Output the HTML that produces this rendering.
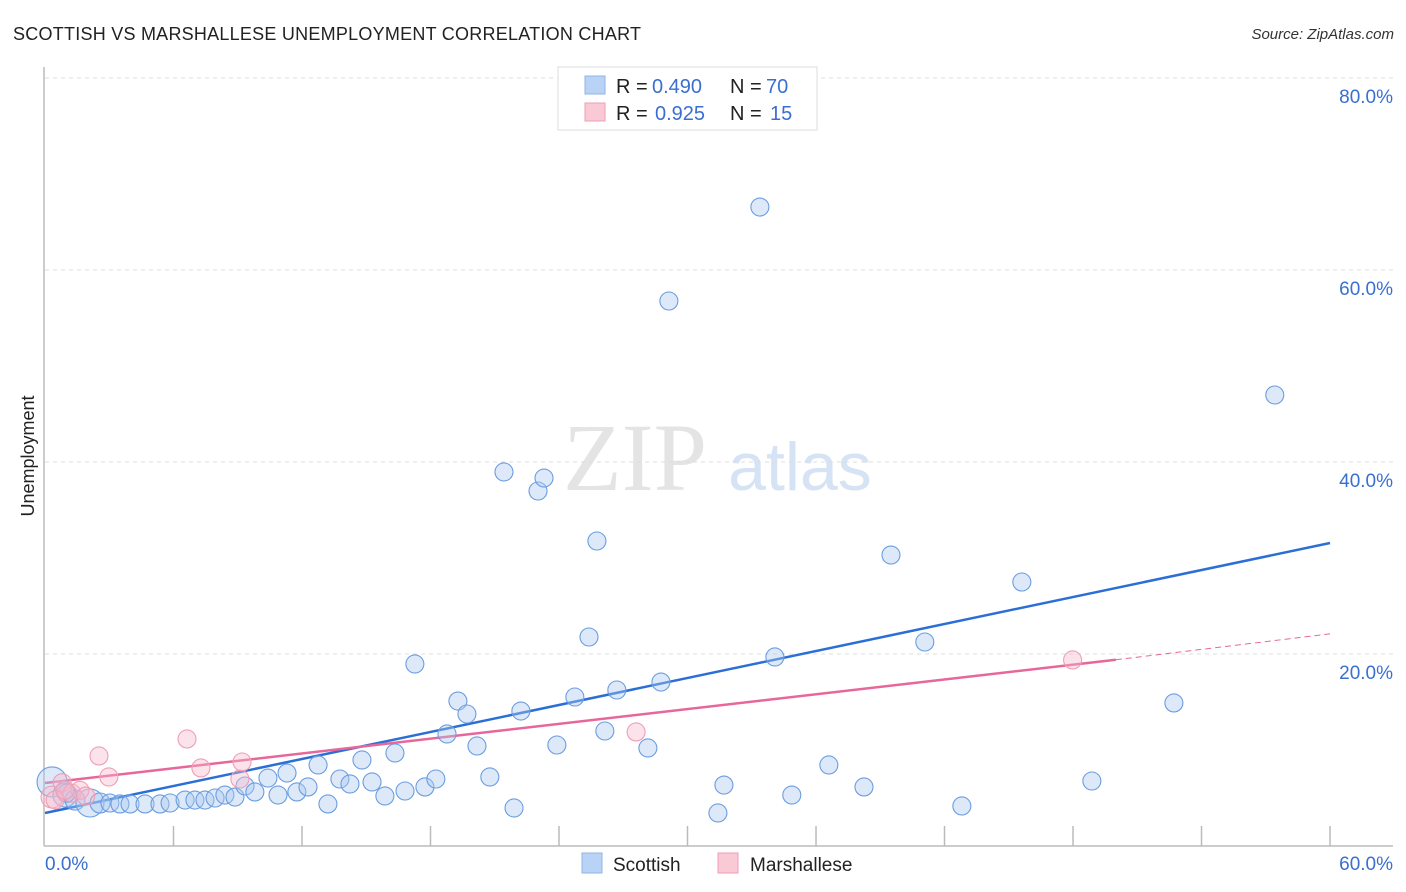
<!DOCTYPE html>
<html><head><meta charset="utf-8">
<style>
body{margin:0;background:#fff;font-family:"Liberation Sans",sans-serif;}
svg{display:block}
</style></head>
<body>
<svg id="chart" width="1406" height="892">
<text x="13" y="40" font-size="18" fill="#222" textLength="628">SCOTTISH VS MARSHALLESE UNEMPLOYMENT CORRELATION CHART</text>
<text x="1394" y="39" font-size="15" fill="#333" font-style="italic" text-anchor="end">Source: ZipAtlas.com</text>
<text x="34" y="456" font-size="18" fill="#222" text-anchor="middle" transform="rotate(-90 34 456)">Unemployment</text>
<g>
<text x="635" y="490" font-size="96" fill="#e4e4e4" font-family="Liberation Serif,serif" text-anchor="middle">ZIP</text>
<text x="800" y="490" font-size="68" fill="#d5e3f5" text-anchor="middle">atlas</text>
</g>
<g id="grid"></g>
<g id="axes"></g>
<g id="lines"></g>
<g id="pts"></g>
<g>
<rect x="558" y="67" width="259" height="63" fill="#fff" stroke="#ddd"/>
<rect x="585" y="76" width="20" height="18" fill="#b8d3f5" stroke="#8fb4e6"/>
<text x="616" y="93" font-size="20" fill="#222">R =</text>
<text x="652" y="93" font-size="20" fill="#3a6fd0">0.490</text>
<text x="730" y="93" font-size="20" fill="#222">N =</text>
<text x="766" y="93" font-size="20" fill="#3a6fd0">70</text>
<rect x="585" y="103" width="20" height="18" fill="#f9c9d6" stroke="#ee9fb4"/>
<text x="616" y="120" font-size="20" fill="#222">R =</text>
<text x="655" y="120" font-size="20" fill="#3a6fd0">0.925</text>
<text x="730" y="120" font-size="20" fill="#222">N =</text>
<text x="770" y="120" font-size="20" fill="#3a6fd0">15</text>
</g>
<g>
<rect x="582" y="853" width="20" height="20" fill="#b8d3f5" stroke="#8fb4e6"/>
<text x="613" y="871" font-size="19" fill="#222">Scottish</text>
<rect x="718" y="853" width="20" height="20" fill="#f9c9d6" stroke="#ee9fb4"/>
<text x="750" y="871" font-size="19" fill="#222">Marshallese</text>
</g>
</svg>
<script>
const blueX=[0.33,0.93,1.40,2.10,2.57,3.03,3.50,3.97,4.67,5.37,5.84,6.54,7.00,7.47,7.94,8.40,8.87,9.34,9.80,10.41,10.88,11.30,11.76,12.28,12.75,13.21,13.77,14.24,14.80,15.27,15.87,16.34,16.81,17.27,17.74,18.25,18.77,19.28,19.70,20.17,20.77,21.43,21.90,22.22,23.02,23.30,23.90,24.74,25.40,25.77,26.14,26.70,28.15,28.76,29.13,31.42,31.70,33.38,34.08,34.87,36.60,38.24,39.50,41.08,42.81,45.61,48.88,52.71,57.42,1.0];
const blueY=[6.67,5.31,4.79,4.48,4.48,4.48,4.38,4.38,4.38,4.38,4.48,4.79,4.79,4.79,5.0,5.31,5.1,6.25,5.63,7.08,5.31,7.6,5.63,6.15,8.44,4.38,6.98,6.46,8.96,6.67,5.21,9.69,5.73,18.96,6.15,6.98,11.67,15.1,13.75,10.42,7.19,38.96,3.96,14.06,36.98,38.33,10.52,15.52,21.77,31.77,11.98,16.25,10.21,17.08,56.77,3.44,6.35,66.56,19.69,5.31,8.44,6.15,30.31,21.25,4.17,27.5,6.77,14.9,46.98,5.5];
const blueR=[15,12,10,14,10,9,9,9,9,9,9,9,9,9,9,9,9,9,9,9,9,9,9,9,9,9,9,9,9,9,9,9,9,9,9,9,9,9,9,9,9,9,9,9,9,9,9,9,9,9,9,9,9,9,9,9,9,9,9,9,9,9,9,9,9,9,9,9,9,9];
const pinkX=[0.33,0.8,1.26,1.63,2.52,2.98,6.63,7.28,9.1,9.2,27.6,47.98,0.47,0.93,1.9];
const pinkY=[5.1,6.6,5.5,5.8,9.38,7.19,11.15,8.13,6.98,8.75,11.88,19.38,4.8,5.8,5.2];
const blueTrend=[3.44,31.56];
const pinkTrend=[6.56,19.4,22.1];
const yTicks=[20,40,60,80];
const xTicks=[0,6,12,18,24,30,36,42,48,54,60];
const NS='http://www.w3.org/2000/svg';
const X=v=>45+v*21.417, Y=v=>846-v*9.6;
function mk(tag,attrs,parent){const e=document.createElementNS(NS,tag);for(const k in attrs)e.setAttribute(k,attrs[k]);document.getElementById(parent).appendChild(e);return e;}
yTicks.forEach(t=>{
 const l=mk('line',{x1:45,x2:1393,y1:Y(t),y2:Y(t),stroke:'#ddd','stroke-dasharray':'4 4'},'grid');
 
 
 const tx=mk('text',{x:1393,y:Y(t)+25,'font-size':19,fill:'#3a6fd0','text-anchor':'end'},'grid');
 tx.textContent=t.toFixed(1)+'%';
 
 
});
let a=mk('line',{x1:44,x2:44,y1:67,y2:846,stroke:'#bbb','stroke-width':1.5},'axes');


a=mk('line',{x1:44,x2:1393,y1:846,y2:846,stroke:'#bbb','stroke-width':1.5},'axes');


xTicks.slice(1).forEach(t=>{
 const l=mk('line',{x1:X(t),x2:X(t),y1:826,y2:846,stroke:'#bbb','stroke-width':1.5},'axes');
 
 
});
[[0,'start',45],[60,'end',1393]].forEach(([t,anc,px])=>{
 const tx=mk('text',{x:px,y:870,'font-size':19,fill:'#3a6fd0','text-anchor':anc},'axes');
 tx.textContent=t.toFixed(1)+'%';
 
 
});
let ln=mk('line',{x1:X(0),y1:Y(blueTrend[0]),x2:X(60),y2:Y(blueTrend[1]),stroke:'#2b6fd6','stroke-width':2.5},'lines');


ln=mk('line',{x1:X(0),y1:Y(pinkTrend[0]),x2:X(50),y2:Y(pinkTrend[1]),stroke:'#e8679a','stroke-width':2.5},'lines');


ln=mk('line',{x1:X(50),y1:Y(pinkTrend[1]),x2:X(60),y2:Y(pinkTrend[2]),stroke:'#e8679a','stroke-width':1,'stroke-dasharray':'6 4'},'lines');


blueX.forEach((v,i)=>{
 const c=mk('circle',{cx:X(v),cy:Y(blueY[i]),r:blueR[i]||9,fill:'rgba(170,200,240,0.4)',stroke:'#6a9de0','stroke-width':1.1},'pts');
 
 
});
pinkX.forEach((v,i)=>{
 const c=mk('circle',{cx:X(v),cy:Y(pinkY[i]),r:i===0?11:9,fill:'rgba(248,185,205,0.4)',stroke:'#ee9fb4','stroke-width':1.1},'pts');
 
 
});
</script>
</body></html>
